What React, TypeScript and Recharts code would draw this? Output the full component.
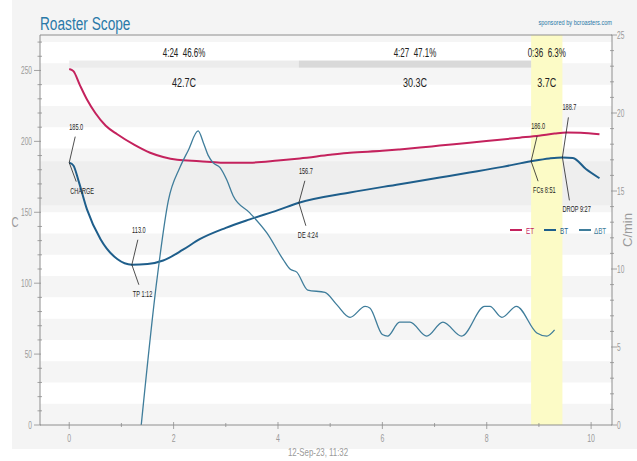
import React from 'react';
import {
  ComposedChart,
  Line,
  XAxis,
  YAxis,
  ReferenceArea,
  ReferenceDot,
  ReferenceLine,
  Legend,
} from 'recharts';

// ---------------- data ----------------
const etTime = [0, 0.08, 0.2, 0.34, 0.5, 0.7, 0.92, 1.25, 1.55, 1.8, 2.07, 2.5, 2.9, 3.46, 4.0, 4.42, 5.0, 5.38, 6.0, 6.33, 6.72, 7.1, 7.67, 8.2, 8.63, 9.0, 9.3, 9.53, 9.8, 10.16];
const etTemp = [251, 249.5, 240, 229.5, 220, 211, 205, 197.5, 192, 189, 187, 186, 185, 185, 186.5, 188, 190.5, 192, 193.3, 194.3, 195.6, 197, 199, 201, 202.6, 204, 205.5, 206.3, 206, 205];

const btTime = [0, 0.08, 0.18, 0.34, 0.6, 0.92, 1.2, 1.5, 1.8, 2.18, 2.5, 3.0, 3.46, 4.0, 4.4, 5.38, 6.33, 7.1, 7.67, 8.3, 8.85, 9.2, 9.45, 9.65, 9.9, 10.16];
const btTemp = [185, 183, 172, 152, 131, 117, 113, 113.5, 116, 123.6, 131, 139, 145, 151.5, 156.7, 164, 169.8, 174.5, 178, 182, 186, 188, 188.7, 188.3, 180.5, 174];

const rorTime = [1.38, 1.68, 1.9, 2.12, 2.28, 2.47, 2.57, 2.66, 2.76, 2.89, 3.02, 3.14, 3.46, 3.79, 4.1, 4.23, 4.36, 4.57, 4.9, 5.13, 5.38, 5.67, 5.76, 6.0, 6.1, 6.33, 6.53, 6.85, 7.16, 7.52, 7.96, 8.06, 8.29, 8.57, 8.96, 9.15, 9.3];
const rorValue = [0, 9.3, 14.4, 16.5, 17.6, 18.85, 18.1, 17.3, 16.8, 16.5, 15.7, 14.7, 13.6, 12.3, 10.6, 10.0, 9.8, 8.65, 8.5, 7.7, 6.9, 7.6, 7.5, 5.8, 5.7, 6.6, 6.6, 5.7, 6.6, 5.7, 7.6, 7.6, 6.9, 7.6, 5.9, 5.7, 6.1];

const eventNames = ['CHARGE', 'TP 1:12', 'DE 4:24', 'FCs 8:51', 'DROP 9:27'];
const eventTimes = [0, 1.2, 4.4, 8.85, 9.45];
const eventTemps = [185.0, 113.0, 156.7, 186.0, 188.7];

const phaseStart = [0, 4.4, 8.85];
const phaseEnd = [4.4, 8.85, 9.45];
const phaseTimePct = ['4:24\u00a0 46.6%', '4:27\u00a0 47.1%', '0:36\u00a0 6.3%'];
const phaseRise = ['42.7C', '30.3C', '3.7C'];

const seriesNames = ['ET', 'BT', '\u0394BT'];

const xTicks = [0, 1, 2, 3, 4, 5, 6, 7, 8, 9, 10];
const leftTicks = [0, 10, 20, 30, 40, 50, 60, 70, 80, 90, 100, 110, 120, 130, 140, 150, 160, 170, 180, 190, 200, 210, 220, 230, 240, 250, 260, 270];
const rightTicks = [0, 1, 2, 3, 4, 5, 6, 7, 8, 9, 10, 11, 12, 13, 14, 15, 16, 17, 18, 19, 20, 21, 22, 23, 24, 25];
const stripeLow = [0, 30, 60, 90, 120, 150, 180, 210, 240, 270];
const stripeHigh = [15, 45, 75, 105, 135, 165, 195, 225, 255, 275];
const bandLow = 155;
const bandHigh = 186;
const leftDomain = [0, 275];

const titleText = 'Roaster Scope';
const sponsorText = 'sponsored by bcroasters.com';
const xLabelText = '12-Sep-23, 11:32';

// ---------------- style ----------------
const FONT = "'Liberation Sans', Arial, sans-serif";
const ET_COLOR = '#c4225d';
const BT_COLOR = '#1e5e8b';
const ROR_COLOR = '#3f7d9b';
const seriesColors = [ET_COLOR, BT_COLOR, ROR_COLOR];
const AXIS = '#8e8e8e';
const TICK_TEXT = '#9a9a9a';
const phaseFills = ['#ececec', '#d9d9d9', '#fcfbc6'];
const annotStyle = [
  { up: 36, down: 30, dx: 1 },
  { up: 35, down: 31, dx: 1 },
  { up: 32, down: 34, dx: -1 },
  { up: 35, down: 31, dx: 2 },
  { up: 50, down: 54, dx: 0 },
];

const toPoints = (t: number[], v: number[]) => t.map((x, i) => ({ t: x, v: v[i] }));
const etData = toPoints(etTime, etTemp);
const btData = toPoints(btTime, btTemp);
const rorData = toPoints(rorTime, rorValue);

const CText = ({ x, y, size, sx = 0.66, anchor = 'start', fill = '#333', children, rotate = 0 }: any) => (
  <text
    transform={`translate(${x},${y}) rotate(${rotate}) scale(${sx},1)`}
    textAnchor={anchor}
    fontSize={size}
    fontFamily={FONT}
    fill={fill}
  >
    {children}
  </text>
);

const LeftTick = (props: any) => {
  const { x, y, payload } = props;
  const major = payload.value % 50 === 0;
  return (
    <g>
      <line x1={x - (major ? 6 : 2.5)} x2={x + (major ? 1 : 2)} y1={y} y2={y} stroke={AXIS} strokeWidth={0.8} />
      {major && (
        <CText x={x - 8} y={y + 3.5} size={10} anchor="end" fill={TICK_TEXT}>
          {payload.value}
        </CText>
      )}
    </g>
  );
};

const RightTick = (props: any) => {
  const { x, y, payload } = props;
  const major = payload.value % 5 === 0;
  return (
    <g>
      <line x1={x - (major ? 1 : 2)} x2={x + (major ? 5 : 2)} y1={y} y2={y} stroke={AXIS} strokeWidth={0.8} />
      {major && (
        <CText x={x + 5} y={y + 3.5} size={10} anchor="start" fill={TICK_TEXT}>
          {payload.value}
        </CText>
      )}
    </g>
  );
};

const BottomTick = (props: any) => {
  const { x, y, payload } = props;
  const major = payload.value % 2 === 0;
  return (
    <g>
      <line x1={x} x2={x} y1={y - (major ? 3 : 2)} y2={y + (major ? 4 : 2)} stroke={AXIS} strokeWidth={0.8} />
      {major && (
        <CText x={x} y={y + 17} size={10.5} anchor="middle" fill={TICK_TEXT}>
          {payload.value}
        </CText>
      )}
    </g>
  );
};

const makeAnnot = (i: number) => (p: any) => {
  const { cx, cy } = p;
  const s = annotStyle[i];
  if (cx == null || cy == null) return <g />;
  return (
    <g>
      <polyline
        points={`${cx + 6},${cy - s.up + 10} ${cx},${cy} ${cx + 7},${cy + s.down - 11}`}
        fill="none"
        stroke="#222"
        strokeWidth={0.8}
      />
      <CText x={cx + 7} y={cy - s.up + 3} size={9} sx={0.62} anchor="middle" fill="#222">
        {eventTemps[i].toFixed(1)}
      </CText>
      <CText x={cx + s.dx} y={cy + s.down + 1} size={9} sx={0.62} anchor="start" fill="#222">
        {eventNames[i]}
      </CText>
    </g>
  );
};

const makePhaseShape = (i: number) => (p: any) => {
  const { x, y, width, height } = p;
  const cx = x + width / 2;
  return (
    <g>
      {i < 2 && <rect x={x} y={y} width={width} height={height} fill={phaseFills[i]} />}
      <CText x={cx} y={y - 4} size={12.5} sx={0.64} anchor="middle" fill="#222">
        {phaseTimePct[i]}
      </CText>
      <CText x={cx} y={y + height + 19} size={12.5} sx={0.72} anchor="middle" fill="#222">
        {phaseRise[i]}
      </CText>
    </g>
  );
};

const LegendContent = () => {
  const items = [
    { sw: 5, tx: 21 },
    { sw: 39, tx: 55 },
    { sw: 74, tx: 89 },
  ];
  return (
    <svg width={110} height={16} style={{ display: 'block' }}>
      {seriesNames.map((n, i) => (
        <g key={n}>
          <line x1={items[i].sw} x2={items[i].sw + 12} y1={8} y2={8} stroke={seriesColors[i]} strokeWidth={2} />
          <CText x={items[i].tx} y={11.5} size={9.5} sx={0.66} fill={seriesColors[i]}>
            {n}
          </CText>
        </g>
      ))}
    </svg>
  );
};

export default function App() {
  return (
    <div style={{ position: 'absolute', left: 0, top: 0, width: 637, height: 461, background: '#ffffff' }}>
      <div style={{ position: 'absolute', left: 12, top: 0, width: 625, height: 449, background: '#f4f4f4' }} />
      <div style={{ position: 'absolute', left: 0, top: 0 }}>
        <ComposedChart
          width={637}
          height={461}
          margin={{ top: 35, right: 0, bottom: 0, left: 10 }}
        >
          <XAxis
            dataKey="t"
            type="number"
            domain={[-0.56, 10.4]}
            allowDataOverflow
            ticks={xTicks}
            interval={0}
            tickSize={0}
            tickMargin={0}
            tickLine={false}
            tick={<BottomTick />}
            axisLine={{ stroke: AXIS }}
            height={36}
            label={{
              content: (p: any) => {
                const vb = p.viewBox || { x: 40, y: 425, width: 572 };
                return (
                  <CText x={vb.x + vb.width / 2 - 8} y={vb.y + 31} size={10.5} sx={0.75} anchor="middle" fill={TICK_TEXT}>
                    {xLabelText}
                  </CText>
                );
              },
            }}
          />
          <YAxis
            yAxisId="left"
            orientation="left"
            type="number"
            domain={leftDomain}
            ticks={leftTicks}
            interval={0}
            width={30}
            tickSize={0}
            tickMargin={0}
            tickLine={false}
            tick={<LeftTick />}
            axisLine={{ stroke: AXIS }}
            label={{
              content: (p: any) => {
                const vb = p.viewBox || { x: 10, y: 35, height: 390 };
                return (
                  <CText x={vb.x + 5} y={vb.y + vb.height / 2 - 3} size={14} sx={0.7} anchor="middle" fill={TICK_TEXT}>
                    C
                  </CText>
                );
              },
            }}
          />
          <YAxis
            yAxisId="right"
            orientation="right"
            type="number"
            domain={[0, 25]}
            ticks={rightTicks}
            interval={0}
            width={25}
            tickSize={0}
            tickMargin={0}
            tickLine={false}
            tick={<RightTick />}
            axisLine={{ stroke: AXIS }}
            label={{
              content: (p: any) => {
                const vb = p.viewBox || { x: 612, y: 35, height: 390 };
                return (
                  <CText x={vb.x + 20} y={vb.y + vb.height / 2} size={13} sx={1} rotate={-90} anchor="middle" fill={TICK_TEXT}>
                    C/min
                  </CText>
                );
              },
            }}
          />

          <ReferenceArea
            yAxisId="left"
            x1={-0.56}
            x2={10.4}
            y1={leftDomain[0]}
            y2={leftDomain[1]}
            fill="#ffffff"
            fillOpacity={1}
            stroke="none"
          />
          {stripeLow.map((lo, i) => (
            <ReferenceArea
              key={`s${i}`}
              yAxisId="left"
              y1={lo}
              y2={stripeHigh[i]}
              fill="#f5f5f5"
              fillOpacity={1}
              stroke="none"
              ifOverflow="hidden"
            />
          ))}
          <ReferenceArea yAxisId="left" y1={bandLow} y2={bandHigh} fill="#eeeeee" fillOpacity={1} stroke="none" />
          <ReferenceArea
            yAxisId="left"
            x1={phaseStart[2]}
            x2={phaseEnd[2]}
            fill={phaseFills[2]}
            fillOpacity={1}
            stroke="none"
          />
          {phaseStart.map((s, i) => (
            <ReferenceArea
              key={`p${i}`}
              yAxisId="left"
              x1={s}
              x2={phaseEnd[i]}
              y1={252}
              y2={257}
              stroke="none"
              shape={makePhaseShape(i)}
            />
          ))}
          <ReferenceLine yAxisId="left" y={275} stroke={AXIS} strokeWidth={1} />

          <Line
            yAxisId="left"
            data={etData}
            dataKey="v"
            name={seriesNames[0]}
            type="monotone"
            stroke={ET_COLOR}
            strokeWidth={2}
            dot={false}
            activeDot={false}
            isAnimationActive={false}
          />
          <Line
            yAxisId="left"
            data={btData}
            dataKey="v"
            name={seriesNames[1]}
            type="monotone"
            stroke={BT_COLOR}
            strokeWidth={2}
            dot={false}
            activeDot={false}
            isAnimationActive={false}
          />
          <Line
            yAxisId="right"
            data={rorData}
            dataKey="v"
            name={seriesNames[2]}
            type="monotone"
            stroke={ROR_COLOR}
            strokeWidth={1.3}
            dot={false}
            activeDot={false}
            isAnimationActive={false}
          />

          {eventTimes.map((t, i) => (
            <ReferenceDot
              key={`e${i}`}
              yAxisId="left"
              x={t}
              y={eventTemps[i]}
              r={0}
              shape={makeAnnot(i)}
            />
          ))}

          <Legend
            layout="horizontal"
            verticalAlign="middle"
            align="center"
            content={<LegendContent />}
            wrapperStyle={{ position: 'absolute', left: 505, top: 222, width: 110, height: 16 }}
          />
        </ComposedChart>
      </div>
      <svg width={637} height={34} style={{ position: 'absolute', left: 0, top: 0, pointerEvents: 'none' }}>
        <CText x={40} y={30} size={19} sx={0.72} fill="#2a79a8">
          {titleText}
        </CText>
        <CText x={612} y={25} size={7.5} sx={0.75} anchor="end" fill="#2a79a8">
          {sponsorText}
        </CText>
      </svg>
    </div>
  );
}
